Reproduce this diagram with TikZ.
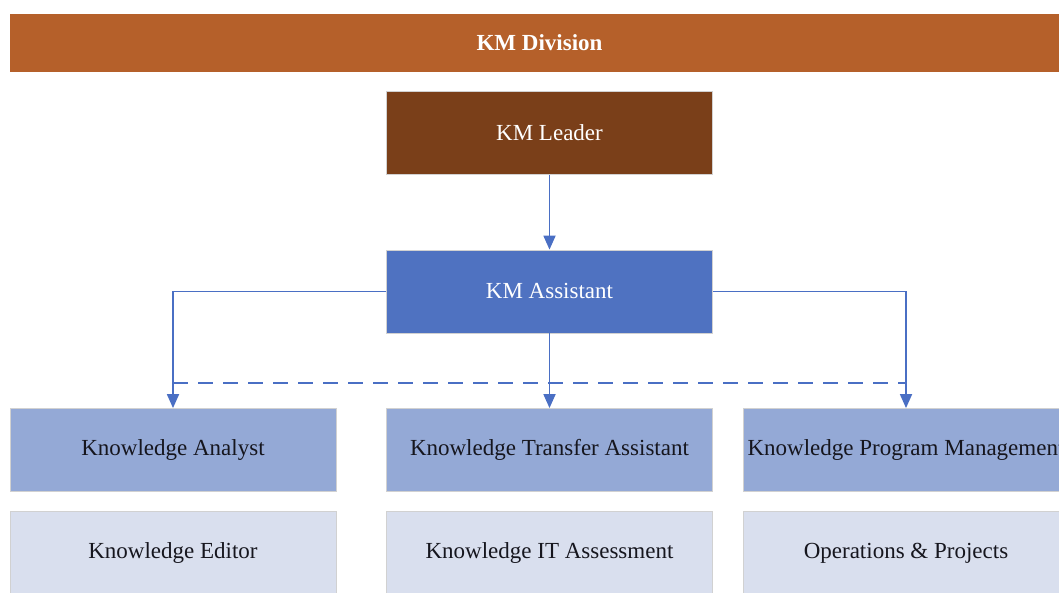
\documentclass[tikz,border=0pt]{standalone}
\usepackage{fontspec}
\setmainfont{Liberation Serif}
\usetikzlibrary{arrows.meta}
\definecolor{division}{HTML}{B5602A}
\definecolor{leader}{HTML}{7A3F19}
\definecolor{assist}{HTML}{4F72C1}
\definecolor{staff}{HTML}{94A9D6}
\definecolor{support}{HTML}{D9DFEE}
\definecolor{wire}{HTML}{4A6FC4}
\definecolor{ink}{HTML}{16161E}

\begin{document}
\begin{tikzpicture}[x=1pt,y=1pt,
  box/.style={rectangle,draw=white!82!black,line width=0.8pt,inner sep=0pt,
    minimum width=326pt,minimum height=83pt,
    font=\fontsize{23}{27}\selectfont},
  link/.style={wire,line width=1.8pt,-{Triangle[width=12pt,length=14pt]}},
  dashlink/.style={wire,line width=1.8pt,dash pattern=on 15pt off 10pt}]
 \useasboundingbox (0,0) rectangle (1059,593);
 \fill[white] (0,0) rectangle (1059,593);
 \clip (0,0) rectangle (1059,593);
 \node[box,fill=division,draw=none,minimum width=1059pt,minimum height=58pt,text=white,font=\fontsize{23}{27}\selectfont\bfseries] (division) at (539.5,550) {KM Division};
 \node[box,fill=leader,text=white] (lead) at (549.5,460) {KM Leader};
 \node[box,fill=assist,text=white] (assistant) at (549.5,301.5) {KM Assistant};
 \node[box,fill=staff,text=ink] (analyst) at (173,143) {Knowledge Analyst};
 \node[box,fill=staff,text=ink] (transfer) at (549.5,143) {Knowledge Transfer Assistant};
 \node[box,fill=staff,text=ink] (program) at (906,143) {Knowledge Program Management};
 \node[box,fill=support,text=ink] (editor) at (173,40) {Knowledge Editor};
 \node[box,fill=support,text=ink] (itassess) at (549.5,40) {Knowledge IT Assessment};
 \node[box,fill=support,text=ink] (projects) at (906,40) {Operations \& Projects};
 \draw[link] (lead)--(assistant);
 \draw[link] (assistant.west)-|(analyst.north);
 \draw[link] (assistant)--(transfer);
 \draw[link] (assistant.east)-|(program.north);
 \coordinate (dashL) at ([yshift=25pt]analyst.north);
 \coordinate (dashR) at ([yshift=25pt]program.north);
 \draw[dashlink] (dashL)--(dashR);
\end{tikzpicture}
\end{document}
